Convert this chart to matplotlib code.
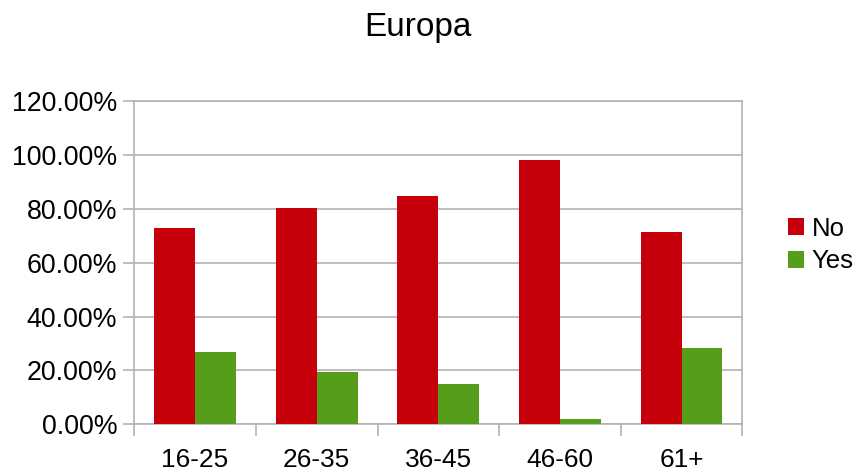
import matplotlib
matplotlib.use("Agg")
import matplotlib.pyplot as plt
import numpy as np
from matplotlib.ticker import FuncFormatter, MultipleLocator, FixedLocator

categories = ["16-25", "26-35", "36-45", "46-60", "61+"]
no_vals = [73.0, 80.5, 85.0, 98.2, 71.5]
yes_vals = [27.0, 19.5, 15.0, 2.0, 28.5]
series_names = ["No", "Yes"]
title = "Europa"

plt.rcParams['font.family'] = ['Liberation Sans', 'DejaVu Sans']

RED = "#C5000B"
GREEN = "#579D1C"
GRID = "#b3b3b3"

fig = plt.figure(figsize=(8.59, 4.72), dpi=100)
ax = fig.add_axes([134.3/859, 1-424.3/472, 608/859, 323/472])

x = np.arange(len(categories))
w = 0.337
ax.bar(x - w/2, no_vals, width=w, color=RED, label=series_names[0], zorder=3)
ax.bar(x + w/2, yes_vals, width=w, color=GREEN, label=series_names[1], zorder=3)

ax.set_xlim(-0.5, len(categories) - 0.5)
ax.set_ylim(0, 120)
ax.yaxis.set_major_locator(MultipleLocator(20))
ax.yaxis.set_major_formatter(FuncFormatter(lambda v, p: f"{v:.2f}%"))
ax.grid(axis='y', color=GRID, linewidth=1.2, zorder=0)

ax.set_xticks(x)
ax.set_xticklabels(categories)
ax.xaxis.set_minor_locator(FixedLocator(np.arange(-0.5, len(categories), 1.0)))
ax.tick_params(axis='x', which='major', length=0, pad=17, labelsize=18.9, colors='black')
ax.tick_params(axis='x', which='minor', length=8.5, width=1.2, color=GRID)
ax.tick_params(axis='y', which='major', length=8, width=1.2, color=GRID, pad=4.3, labelsize=19.3)

for s in ax.spines.values():
    s.set_color(GRID)
    s.set_linewidth(1.2)

fig.text(418/859, 1-36/472, title, ha='center', va='baseline', fontsize=24)

fig.legend(loc='center left', bbox_to_anchor=(788/859, 1-245/472), frameon=False,
           fontsize=18.5, handlelength=0.62, handleheight=0.62, handletextpad=0.3,
           labelspacing=0.35, borderpad=0, borderaxespad=0)

fig.savefig("out.png", dpi=100)
